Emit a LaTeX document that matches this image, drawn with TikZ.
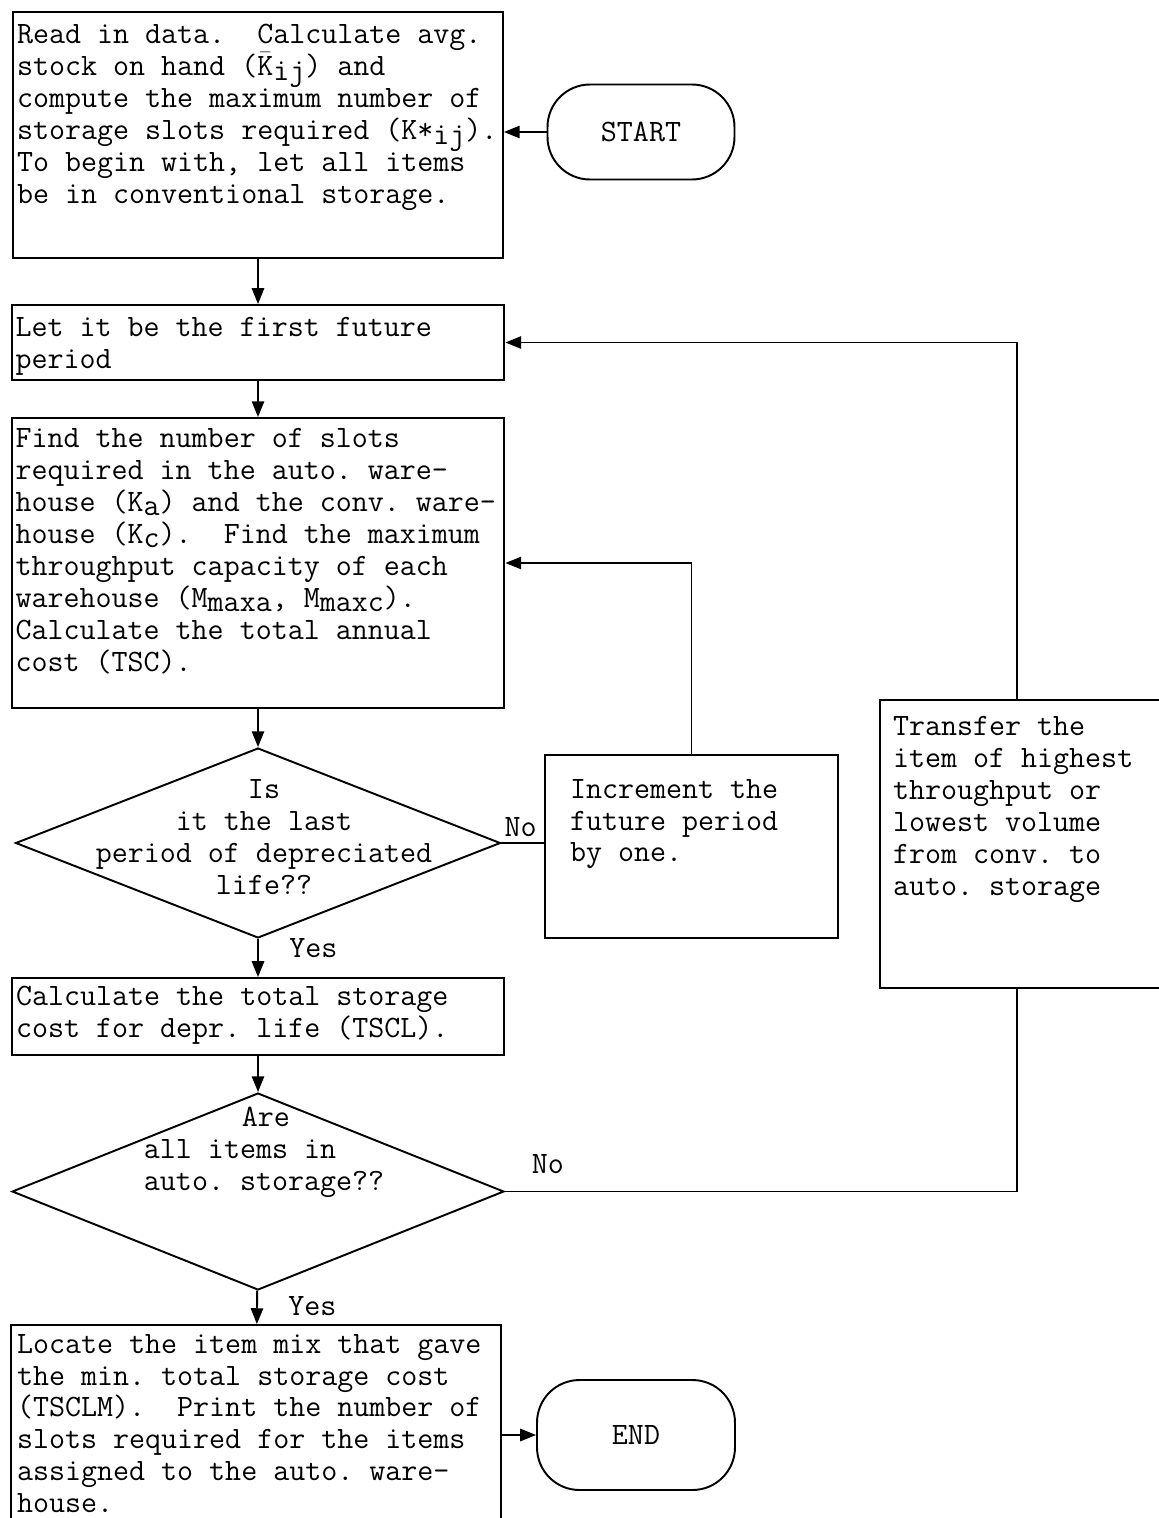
\documentclass[tikz,border=0pt]{standalone}
\usepackage{tikz}
\usetikzlibrary{shapes.geometric, arrows.meta, positioning, calc}
\newcommand{\lowsub}[1]{\raisebox{-0.35ex}[0pt][0pt]{#1}}

\begin{document}
\begin{tikzpicture}[x=0.02cm, y=-0.02cm, line width=1.1pt,
    font=\ttfamily\fontsize{17.7}{18.2}\selectfont,
    box/.style={draw, rectangle, inner sep=0pt},
    txt/.style={anchor=north west, align=left, inner sep=0pt},
    decision/.style={draw, diamond, inner sep=0pt},
    terminal/.style={draw, rectangle, rounded corners=0.85cm, inner sep=0pt},
    flow/.style={-{Triangle[length=9pt,width=7pt]}}]
  \frenchspacing
  \useasboundingbox (0,0) rectangle (1159,1518);

  % ---------- start ----------
  \node[terminal, minimum width=3.74cm, minimum height=1.9cm] (start) at (641,132) {START};

  % ---------- read in data ----------
  \node[box, minimum width=9.8cm, minimum height=4.92cm] (read) at (258,135) {};
  \node[txt] (readtxt) at ($(read.north west)+(4,12)$)
    {Read in data.\ \ Calculate avg.\\
     stock on hand (\smash{$\bar{\texttt{K}}$}\lowsub{ij}) and\\
     compute the maximum number of\\
     storage slots required (K*\lowsub{ij}).\\
     To begin with, let all items\\
     be in conventional storage.};

  % ---------- first future period ----------
  \node[box, minimum width=9.86cm, minimum height=1.5cm] (first) at (258,342.5) {};
  \node[txt] (firsttxt) at ($(first.north west)+(4,12)$)
    {Let it be the first future\\ period};

  % ---------- slots and cost ----------
  \node[box, minimum width=9.86cm, minimum height=5.8cm] (slots) at (258,563) {};
  \node[txt] (slotstxt) at ($(slots.north west)+(4,10)$)
    {Find the number of slots\\
     required in the auto. ware-\\
     house (K\lowsub{a}) and the conv. ware-\\
     house (K\lowsub{c}).\ \ Find the maximum\\
     throughput capacity of each\\
     warehouse (M\lowsub{maxa}, M\lowsub{maxc}).\\
     Calculate the total annual\\
     cost (TSC).};

  % ---------- last period? ----------
  \node[decision, minimum width=9.7cm, minimum height=3.8cm] (last) at (258,843) {};
  \node[align=center, inner sep=0pt, anchor=north] (lasttxt) at (264,779)
    {Is\\ it the last\\ period of depreciated\\ life??};

  \node[box, minimum width=5.86cm, minimum height=3.66cm] (incr) at (691.5,846.5) {};
  \node[txt] (incrtxt) at ($(incr.north west)+(25,24)$)
    {Increment the\\ future period\\ by one.};

  % ---------- total storage cost ----------
  \node[box, minimum width=9.84cm, minimum height=1.54cm] (tscl) at (258,1016.5) {};
  \node[txt] (tscltxt) at ($(tscl.north west)+(4,8)$)
    {Calculate the total storage\\ cost for depr. life (TSCL).};

  % ---------- all items in auto? ----------
  \node[decision, minimum width=9.84cm, minimum height=3.94cm] (allauto) at (258,1191.5) {};
  \node[txt] (allautotxt) at (143,1106)
    {\hspace*{3.15em}Are\\ all items in\\ auto. storage??};

  \node[box, minimum width=6cm, minimum height=5.76cm] (transfer) at (1030,844) {};
  \node[txt] (transfertxt) at ($(transfer.north west)+(13,16)$)
    {Transfer the\\ item of highest\\ throughput or\\ lowest volume\\ from conv. to\\ auto. storage};

  % ---------- result ----------
  \node[box, minimum width=9.8cm, minimum height=4.1cm] (mix) at (256,1427.5) {};
  \node[txt] (mixtxt) at ($(mix.north west)+(6,9)$)
    {Locate the item mix that gave\\
     the min. total storage cost\\
     (TSCLM).\ \ Print the number of\\
     slots required for the items\\
     assigned to the auto. ware-\\
     house.};

  \node[terminal, minimum width=3.96cm, minimum height=2.2cm] (finish) at (636,1435) {END};

  % ---------- connectors ----------
  \coordinate (tbot) at ($(transfer.south west)+(138,0)$);
  \coordinate (ttop) at ($(transfer.north west)+(138,0)$);

  \draw[flow] (start.west) -- (start.west -| read.east);
  \draw[flow] (read) -- (first);
  \draw[flow] (first) -- (slots);
  \draw[flow] (slots) -- (last);
  \draw[flow] (last) -- node[right=14pt, pos=0.25] (yes1) {Yes} (tscl);
  \draw (last.east) -- node[above, pos=0.45] (no1) {No} (last.east -| incr.west);
  \draw[flow] (incr.north) |- (slots.east);
  \draw[flow] (tscl) -- (allauto);
  \draw (allauto.east) -| node[above=6pt, pos=0.042] (no2) {No} (tbot);
  \draw[flow] (ttop) |- (first.east);
  \draw[flow] (allauto) -- node[right=14pt, pos=0.45] (yes2) {Yes} (mix);
  \draw[flow] (finish.west -| mix.east) -- (finish.west);
\end{tikzpicture}
\end{document}
